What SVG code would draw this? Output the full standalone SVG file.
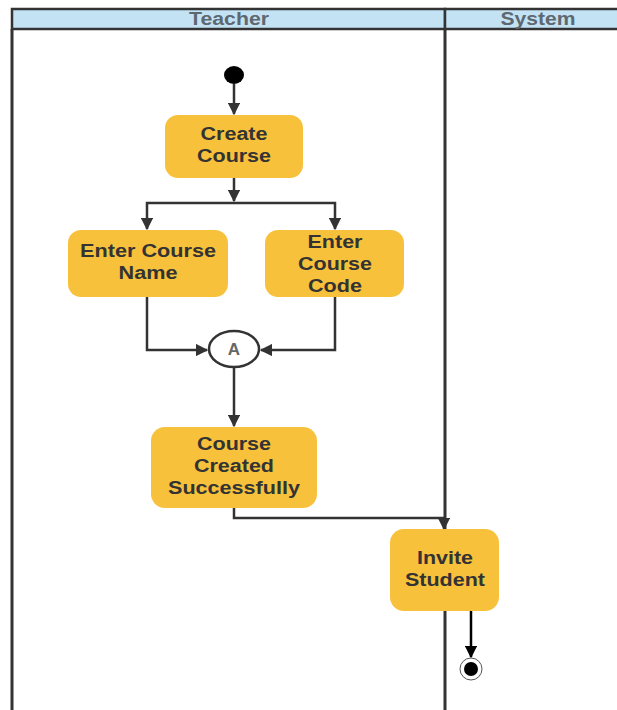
<svg xmlns="http://www.w3.org/2000/svg" width="617" height="710" viewBox="0 0 617 710">
<defs>
<style>
.lane{fill:none;stroke:#333;stroke-width:3}
.hdr{fill:#c3e3f5;stroke:#333;stroke-width:2.5}
.htxt{font-family:"Liberation Sans",Arial,sans-serif;font-weight:bold;font-size:18px;fill:#5e6870;text-anchor:middle}
.act{fill:#f8c13b}
.atxt{font-family:"Liberation Sans",Arial,sans-serif;font-weight:bold;font-size:18px;fill:#333;text-anchor:middle}
.edge{fill:none;stroke:#333;stroke-width:2.5}
</style>
<marker id="ah" viewBox="0 0 10 10" refX="9" refY="5" markerWidth="5" markerHeight="5" orient="auto-start-reverse" markerUnits="strokeWidth">
<path d="M0,0 L10,5 L0,10 z" fill="#333"/>
</marker>
<marker id="ahk" viewBox="0 0 10 10" refX="9" refY="5" markerWidth="5" markerHeight="5" orient="auto" markerUnits="strokeWidth">
<path d="M0,0 L10,5 L0,10 z" fill="#000"/>
</marker>
</defs>
<rect width="617" height="710" fill="#fff"/>
<g id="lanes">
<rect class="hdr" x="12" y="9" width="433" height="20"/>
<rect class="hdr" x="445" y="9" width="180" height="20"/>
<text class="htxt" x="229" y="25" textLength="80" lengthAdjust="spacingAndGlyphs">Teacher</text>
<text class="htxt" x="538" y="25" textLength="75" lengthAdjust="spacingAndGlyphs">System</text>
<line class="lane" x1="12" y1="29" x2="12" y2="712"/>
<line class="lane" x1="445" y1="29" x2="445" y2="712"/>
</g>
<g id="connectors">
<line class="edge" x1="234" y1="84" x2="234" y2="114" marker-end="url(#ah)"/>
<line class="edge" x1="234" y1="178" x2="234" y2="201" marker-end="url(#ah)"/>
<path class="edge" d="M147,229 L147,203 L335,203 L335,229" marker-start="url(#ah)" marker-end="url(#ah)"/>
<path class="edge" d="M147,297 L147,350 L207,350" marker-end="url(#ah)"/>
<path class="edge" d="M335,297 L335,350 L261,350" marker-end="url(#ah)"/>
<line class="edge" x1="234" y1="367" x2="234" y2="426" marker-end="url(#ah)"/>
<path class="edge" d="M234,508 L234,518 L444,518 L444,529" marker-end="url(#ah)"/>
<line x1="471" y1="611" x2="471" y2="657" stroke="#000" stroke-width="2.5" marker-end="url(#ahk)"/>
</g>
<g id="start">
<ellipse cx="234" cy="75" rx="10" ry="9" fill="#000"/>
</g>
<g id="create-course">
<rect class="act" x="165" y="115" width="138" height="63" rx="13"/>
<text class="atxt" x="234" y="140" textLength="67" lengthAdjust="spacingAndGlyphs">Create</text>
<text class="atxt" x="234" y="162" textLength="74" lengthAdjust="spacingAndGlyphs">Course</text>
</g>
<g id="enter-name">
<rect class="act" x="68" y="230" width="160" height="67" rx="13"/>
<text class="atxt" x="148" y="257" textLength="136" lengthAdjust="spacingAndGlyphs">Enter Course</text>
<text class="atxt" x="148" y="279" textLength="59" lengthAdjust="spacingAndGlyphs">Name</text>
</g>
<g id="enter-code">
<rect class="act" x="265" y="230" width="139" height="67" rx="13"/>
<text class="atxt" x="335" y="248" textLength="55" lengthAdjust="spacingAndGlyphs">Enter</text>
<text class="atxt" x="335" y="270" textLength="74" lengthAdjust="spacingAndGlyphs">Course</text>
<text class="atxt" x="335" y="292" textLength="54" lengthAdjust="spacingAndGlyphs">Code</text>
</g>
<g id="connector-a">
<ellipse cx="234" cy="349" rx="25" ry="18" fill="#fff" stroke="#333" stroke-width="2.5"/>
<text x="234" y="355" font-family="Liberation Sans,Arial,sans-serif" font-weight="bold" font-size="17" fill="#666" text-anchor="middle">A</text>
</g>
<g id="course-created">
<rect class="act" x="151" y="427" width="166" height="81" rx="14"/>
<text class="atxt" x="234" y="450" textLength="74" lengthAdjust="spacingAndGlyphs">Course</text>
<text class="atxt" x="234" y="472" textLength="80" lengthAdjust="spacingAndGlyphs">Created</text>
<text class="atxt" x="234" y="494" textLength="132" lengthAdjust="spacingAndGlyphs">Successfully</text>
</g>
<g id="invite-student">
<rect class="act" x="390" y="529" width="109" height="82" rx="14"/>
<text class="atxt" x="445" y="564" textLength="56" lengthAdjust="spacingAndGlyphs">Invite</text>
<text class="atxt" x="445" y="586" textLength="80" lengthAdjust="spacingAndGlyphs">Student</text>
</g>
<g id="end">
<circle cx="471" cy="669" r="11" fill="#fff" stroke="#555" stroke-width="1"/>
<circle cx="471" cy="669" r="7" fill="#000"/>
</g>
</svg>
